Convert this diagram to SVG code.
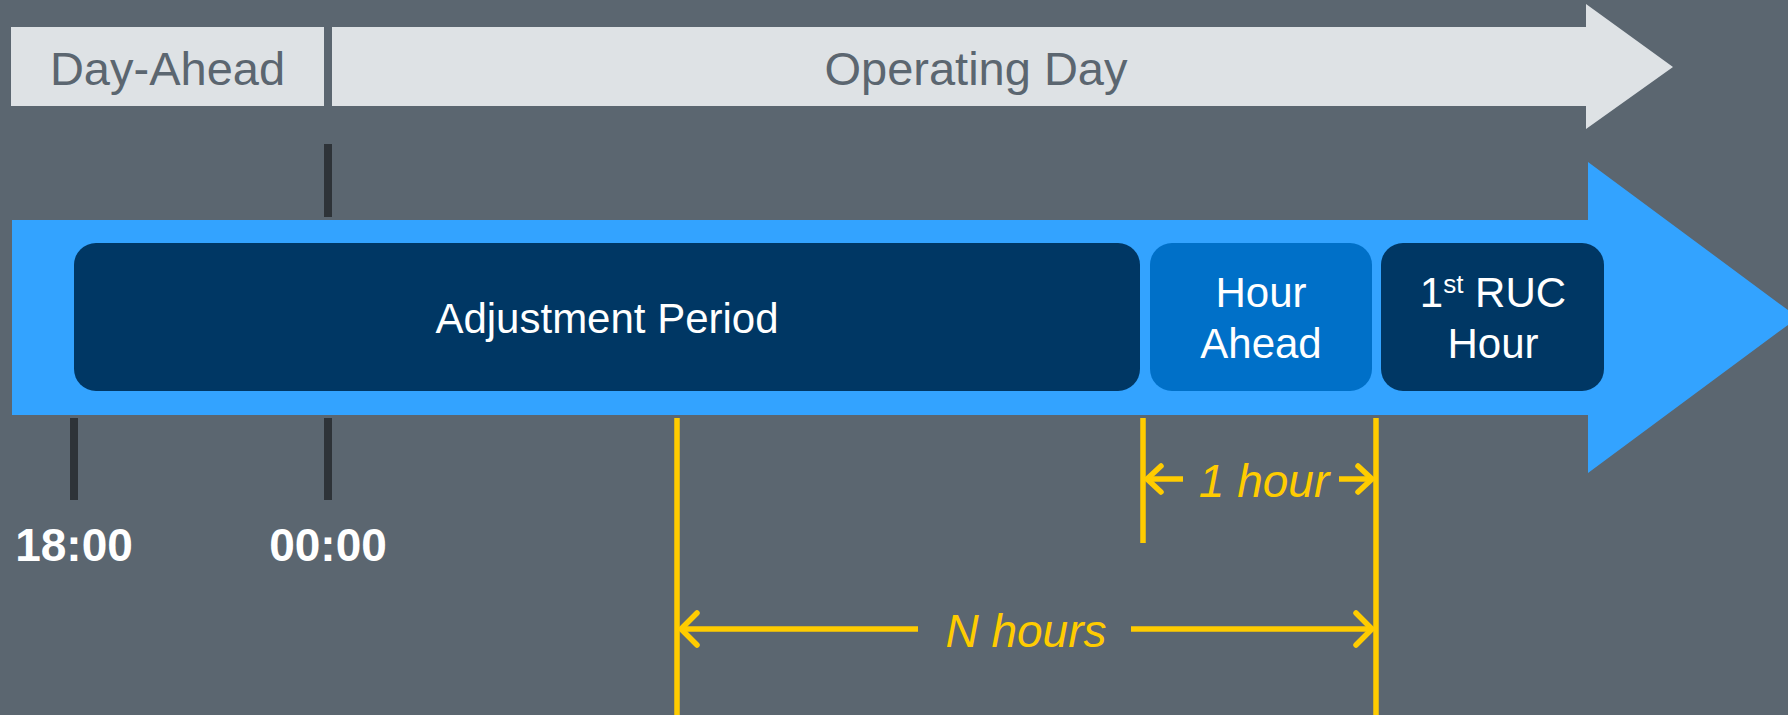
<svg xmlns="http://www.w3.org/2000/svg" width="1788" height="715" viewBox="0 0 1788 715">
<style>
.lbl{font-family:"Liberation Sans",Arial,sans-serif;}
.hdr{font-size:47px;fill:#5B6670;text-anchor:middle;}
.box{font-size:42px;fill:#FFFFFF;text-anchor:middle;}
.time{font-size:46px;font-weight:bold;fill:#FFFFFF;text-anchor:middle;}
.dim{font-size:46px;font-style:italic;fill:#FFCC00;text-anchor:middle;}
.tick{stroke:#2E3338;stroke-width:8;fill:none;}
.yl{stroke:#FFCC00;stroke-width:5.5;fill:none;}
.chev{stroke:#FFCC00;stroke-width:5.5;fill:none;stroke-linecap:round;stroke-linejoin:miter;}
</style>
<rect x="0" y="0" width="1788" height="715" fill="#5B6670"/>

<g id="day-ahead">
<rect x="11" y="27" width="313" height="79" fill="#DEE2E5"/>
<text class="lbl hdr" x="167.5" y="85">Day-Ahead</text>
</g>

<g id="operating-day">
<polygon points="332,27 1586,27 1586,4 1673,67 1586,129 1586,106 332,106" fill="#DEE2E5"/>
<text class="lbl hdr" x="976" y="85">Operating Day</text>
</g>

<g id="timeline">
<polygon points="12,220 1588,220 1588,162 1798,317.5 1588,473 1588,415 12,415" fill="#33A3FF"/>
</g>

<g id="adjustment-period">
<rect x="74" y="243" width="1066" height="148" rx="22" ry="22" fill="#003764"/>
<text class="lbl box" x="607" y="333">Adjustment Period</text>
</g>

<g id="hour-ahead">
<rect x="1150" y="243" width="222" height="148" rx="22" ry="22" fill="#0070C8"/>
<text class="lbl box" x="1261" y="307">Hour</text>
<text class="lbl box" x="1261" y="358">Ahead</text>
</g>

<g id="first-ruc-hour">
<rect x="1381" y="243" width="223" height="148" rx="22" ry="22" fill="#003764"/>
<text class="lbl box" x="1493" y="307">1<tspan font-size="26" dy="-14">st</tspan><tspan dy="14"> RUC</tspan></text>
<text class="lbl box" x="1493" y="358">Hour</text>
</g>

<g id="time-1800">
<text class="lbl time" x="74" y="561">18:00</text>
</g>
<g id="time-0000">
<text class="lbl time" x="328" y="561">00:00</text>
</g>

<g id="connectors">
<line class="tick" x1="328" y1="144" x2="328" y2="217"/>
<line class="tick" x1="74" y1="418" x2="74" y2="500"/>
<line class="tick" x1="328" y1="418" x2="328" y2="500"/>

<line class="yl" x1="677" y1="418" x2="677" y2="715"/>
<line class="yl" x1="1143" y1="418" x2="1143" y2="543"/>
<line class="yl" x1="1376" y1="418" x2="1376" y2="715"/>

<line class="yl" x1="1147" y1="479" x2="1183" y2="479"/>
<polyline class="chev" points="1161,466 1147,479 1161,492"/>
<line class="yl" x1="1339" y1="479" x2="1372" y2="479"/>
<polyline class="chev" points="1358,466 1372,479 1358,492"/>
<text class="lbl dim" x="1264" y="497">1 hour</text>

<line class="yl" x1="681" y1="629" x2="918" y2="629"/>
<polyline class="chev" points="697,613 681,629 697,645"/>
<line class="yl" x1="1131" y1="629" x2="1372" y2="629"/>
<polyline class="chev" points="1356,613 1372,629 1356,645"/>
<text class="lbl dim" x="1026" y="647">N hours</text>
</g>
</svg>
